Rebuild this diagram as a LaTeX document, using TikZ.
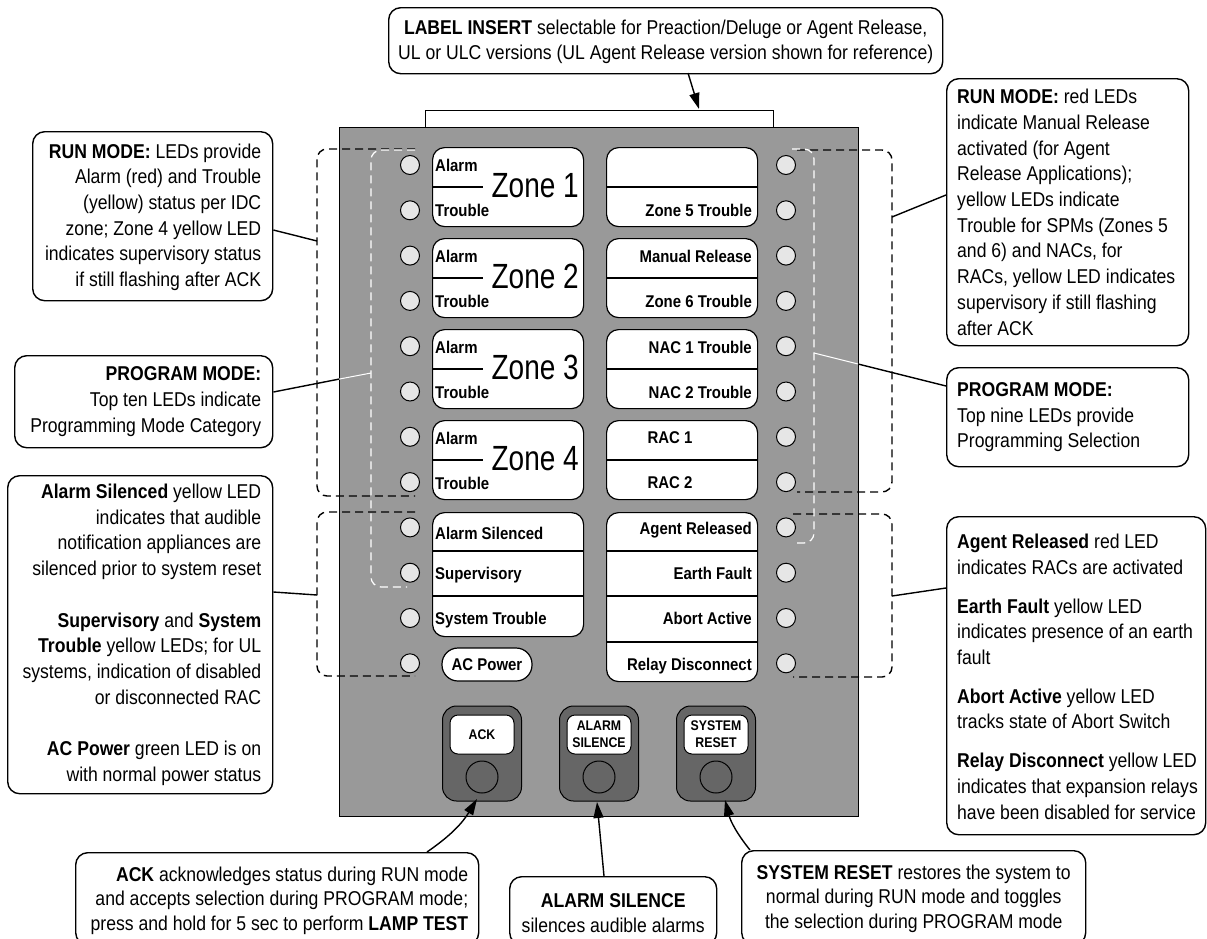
\documentclass[tikz,border=0pt]{standalone}
\usepackage{fontspec}
\setmainfont[FakeStretch=0.88]{Liberation Sans}
\newfontfamily\zonefont[FakeStretch=0.80]{Liberation Sans}
\usetikzlibrary{arrows.meta}
\definecolor{panelgray}{HTML}{999999}
\definecolor{btngray}{HTML}{666666}
\definecolor{ledgray}{HTML}{E6E6E6}
\tikzset{
  cbox/.style={draw, line width=1.4pt, rounded corners=12pt, fill=white,
    inner sep=0pt, anchor=north west},
  ctext/.style={inner sep=0pt, font=\fontsize{20}{25.7}\selectfont},
  lblbox/.style={draw, fill=white, rounded corners=12pt, minimum width=151pt,
    minimum height=79pt, line width=1.2pt, inner sep=0pt},
  lbl/.style={font=\bfseries\fontsize{17}{20}\selectfont, inner sep=0pt,
    text height=12.2pt, text depth=0pt},
  zonetxt/.style={font=\zonefont\fontsize{35}{40}\selectfont, inner sep=0pt,
    text height=25pt, text depth=0pt},
  divider/.style={line width=2.6pt},
  led/.style={circle, draw, fill=ledgray, minimum size=19pt, inner sep=0pt, line width=1pt},
  btnouter/.style={draw, fill=btngray, rounded corners=14pt, minimum width=79pt,
    minimum height=95pt, line width=1pt},
  btnlabel/.style={draw, fill=white, rounded corners=8pt, minimum width=64pt,
    minimum height=39pt, line width=1pt, inner sep=0pt, align=center,
    font=\bfseries\fontsize{14}{17}\selectfont},
  btncirc/.style={circle, draw, fill=btngray, minimum size=32pt, inner sep=0pt, line width=1pt},
  bracket/.style={dash pattern=on 8pt off 5pt, line width=1.4pt, rounded corners=10pt},
  wbracket/.style={dash pattern=on 8pt off 5pt, line width=1.2pt, rounded corners=10pt, draw=white},
  conn/.style={line width=1.4pt},
  arr/.style={line width=1.4pt, -{Triangle[length=16pt,width=10pt]}},
}
\begin{document}
\begin{tikzpicture}[x=1pt,y=-1pt]
\path[use as bounding box] (0,0) rectangle (1207,938);
\clip (0,0) rectangle (1207,938);

% label insert tab and panel
\node[draw, fill=white, line width=1pt, minimum width=348pt, minimum height=25pt,
  anchor=north west, inner sep=0pt] (tab) at (425,110) {};
\node[draw, fill=panelgray, line width=1pt, minimum width=519pt, minimum height=689pt,
  anchor=north west, inner sep=0pt] (panel) at (339,127) {};

% LEDs
\foreach \i in {0,...,11}{
  \node[led] (L\i) at (410,{165+45.3*\i}) {};
  \node[led] (R\i) at (786,{165+45.3*\i}) {};
}

% zone label boxes (left)
\foreach \n/\t in {1/147,2/238,3/329,4/420}{
  \node[lblbox, anchor=north west] (Z\n) at (432,\t) {};
  \draw[divider] (Z\n.west) -- ++(51,0);
  \node[lbl, anchor=west] (Za\n) at (435,{\t+18}) {Alarm};
  \node[lbl, anchor=west] (Zt\n) at (435,{\t+63}) {Trouble};
  \node[zonetxt, anchor=east] (Zn\n) at (579,{\t+38}) {Zone \n};
}

% right label boxes
\foreach \n/\t in {1/147,2/238,3/329,4/420}{
  \node[lblbox, anchor=north west] (Q\n) at (606,\t) {};
  \draw[divider] (Q\n.west) -- (Q\n.east);
}
\node[lbl, anchor=east] (q2a) at (752,256) {Manual Release};
\node[lbl, anchor=east] (q1b) at (752,210) {Zone 5 Trouble};
\node[lbl, anchor=east] (q2b) at (752,301) {Zone 6 Trouble};
\node[lbl, anchor=east] (q3a) at (752,347) {NAC 1 Trouble};
\node[lbl, anchor=east] (q3b) at (752,392) {NAC 2 Trouble};
\node[lbl] (q4a) at (670,437) {RAC 1};
\node[lbl] (q4b) at (670,482) {RAC 2};

% lower left group
\node[lblbox, minimum height=124pt, anchor=north west] (SL) at (432,512) {};
\draw[divider] (432,551) -- (583,551);
\draw[divider] (432,596) -- (583,596);
\node[lbl, anchor=west] (sl1) at (435,533) {Alarm Silenced};
\node[lbl, anchor=west] (sl2) at (435,573) {Supervisory};
\node[lbl, anchor=west] (sl3) at (435,618) {System Trouble};
\node[lblbox, rounded corners=16pt, minimum width=90pt, minimum height=33pt,
  font=\bfseries\fontsize{17}{20}\selectfont] (acp) at (487,664.5) {AC Power};

% lower right group
\node[lblbox, minimum height=169pt, anchor=north west] (SR) at (606,512) {};
\draw[divider] (606,551) -- (758,551);
\draw[divider] (606,596) -- (758,596);
\draw[divider] (606,642) -- (758,642);
\node[lbl, anchor=east] (sr1) at (752,528) {Agent Released};
\node[lbl, anchor=east] (sr2) at (752,573) {Earth Fault};
\node[lbl, anchor=east] (sr3) at (752,618) {Abort Active};
\node[lbl, anchor=east] (sr4) at (752,664) {Relay Disconnect};

% buttons
\foreach \n/\x/\txt in {ack/482/ACK, asil/599/{ALARM\\SILENCE}, srst/716/{SYSTEM\\RESET}}{
  \node[btnouter] (B\n) at (\x,753.5) {};
  \node[btnlabel] (BL\n) at (\x,734.5) {\txt};
  \node[btncirc] (BC\n) at (\x,777) {};
}

% dashed brackets
\draw[bracket] (415,149) -- (317,149) -- (317,496) -- (415,496);
\draw[bracket] (415,512) -- (317,512) -- (317,676) -- (415,676);
\draw[bracket] (797,150) -- (892,150) -- (892,492) -- (797,492);
\draw[bracket] (793,514) -- (892,514) -- (892,677) -- (793,677);
\draw[wbracket] (415,150) -- (371,150) -- (371,587) -- (407,587);
\draw[wbracket] (792,149) -- (814,149) -- (814,543) -- (795,543);

% callout boxes
\node[cbox, minimum width=554pt, minimum height=66pt] (ins) at (388,7) {};
\node[cbox, minimum width=240pt, minimum height=169pt] (runL) at (32,131) {};
\node[cbox, minimum width=258pt, minimum height=92pt] (progL) at (14,355) {};
\node[cbox, minimum width=265pt, minimum height=318pt] (lowL) at (7,475) {};
\node[cbox, minimum width=242pt, minimum height=267pt] (runR) at (946,78) {};
\node[cbox, minimum width=242pt, minimum height=99pt] (progR) at (946,367) {};
\node[cbox, minimum width=259pt, minimum height=318pt] (lowR) at (946,516) {};
\node[cbox, minimum width=403pt, minimum height=92pt] (ackC) at (75,852) {};
\node[cbox, minimum width=207pt, minimum height=68pt] (asilC) at (509,876) {};
\node[cbox, minimum width=344pt, minimum height=94pt] (srstC) at (741,850) {};

% callout texts
\node[ctext, align=center, font=\fontsize{20}{25}\selectfont] (insT) at ([yshift=-1pt]ins.center)
  {\textbf{LABEL INSERT} selectable for Preaction/Deluge or Agent Release,\\UL or ULC versions (UL Agent Release version shown for reference)};
\node[ctext, align=right, anchor=east] (runLt) at ([xshift=-12pt,yshift=-1pt]runL.east)
  {\textbf{RUN MODE:} LEDs provide\\Alarm (red) and Trouble\\(yellow) status per IDC\\zone; Zone 4 yellow LED\\indicates supervisory status\\if still flashing after ACK};
\node[ctext, align=right, anchor=east] (progLt) at ([xshift=-12pt]progL.east)
  {\textbf{PROGRAM MODE:}\\Top ten LEDs indicate\\Programming Mode Category};
\node[ctext, align=right, anchor=east] (lowLt) at ([xshift=-12pt]lowL.east)
  {\textbf{Alarm Silenced} yellow LED\\indicates that audible\\notification appliances are\\silenced prior to system reset\\[25.7pt]\textbf{Supervisory} and \textbf{System}\\\textbf{Trouble} yellow LEDs; for UL\\systems, indication of disabled\\or disconnected RAC\\[25.7pt]\textbf{AC Power} green LED is on\\with normal power status};
\node[ctext, align=left, anchor=west] (runRt) at ([xshift=11pt]runR.west)
  {\textbf{RUN MODE:} red LEDs\\indicate Manual Release\\activated (for Agent\\Release Applications);\\yellow LEDs indicate\\Trouble for SPMs (Zones 5\\and 6) and NACs, for\\RACs, yellow LED indicates\\supervisory if still flashing\\after ACK};
\node[ctext, align=left, anchor=west] (progRt) at ([xshift=11pt]progR.west)
  {\textbf{PROGRAM MODE:}\\Top nine LEDs provide\\Programming Selection};
\node[ctext, align=left, anchor=west] (lowRt) at ([xshift=11pt,yshift=-1pt]lowR.west)
  {\textbf{Agent Released} red LED\\indicates RACs are activated\\[13pt]\textbf{Earth Fault} yellow LED\\indicates presence of an earth\\fault\\[13pt]\textbf{Abort Active} yellow LED\\tracks state of Abort Switch\\[13pt]\textbf{Relay Disconnect} yellow LED\\indicates that expansion relays\\have been disabled for service};
\node[ctext, align=right, anchor=east, font=\fontsize{20}{24.2}\selectfont] (ackCt) at ([xshift=-11pt,yshift=-2pt]ackC.east)
  {\textbf{ACK} acknowledges status during RUN mode\\and accepts selection during PROGRAM mode;\\press and hold for 5 sec to perform \textbf{LAMP TEST}};
\node[ctext, align=center, font=\fontsize{20}{24.8}\selectfont] (asilCt) at ([yshift=-2pt]asilC.center)
  {\textbf{ALARM SILENCE}\\silences audible alarms};
\node[ctext, align=center, font=\fontsize{20}{24.8}\selectfont] (srstCt) at ([yshift=-1pt]srstC.center)
  {\textbf{SYSTEM RESET} restores the system to\\normal during RUN mode and toggles\\the selection during PROGRAM mode};

% connector end points
\coordinate (bLup) at (317,241);
\coordinate (bLlow) at (317,595);
\coordinate (bRup) at (892,217);
\coordinate (bRlow) at (892,596);
\coordinate (pL) at (339,379.1);
\coordinate (wL) at (371,373);
\coordinate (pR) at (858,364);
\coordinate (wR) at (814,353);
\coordinate (insS) at (688,73);
\coordinate (insE) at (699,109);
\coordinate (ackS) at (427,852);
\coordinate (ackE) at (477,799);
\coordinate (asilS) at (604,876);
\coordinate (asilE) at (597,802);
\coordinate (srstS) at (750,850);
\coordinate (srstE) at (725,800);

% connectors
\draw[conn] (runL.east |- 0,230) -- (bLup);
\draw[conn] (progL.east |- 0,392) -- (pL);
\draw[conn, draw=white, line width=1pt] (pL) -- (wL);
\draw[conn] (lowL.east |- 0,592) -- (bLlow);
\draw[conn] (runR.west |- 0,195) -- (bRup);
\draw[conn] (progR.west |- 0,386) -- (pR);
\draw[conn, draw=white, line width=1pt] (pR) -- (wR);
\draw[conn] (lowR.west |- 0,588) -- (bRlow);
\draw[arr] (insS) -- (insE);
\draw[arr] (ackS) to[bend right=12] (ackE);
\draw[arr] (asilS) -- (asilE);
\draw[arr] (srstS) to[bend left=12] (srstE);
\end{tikzpicture}
\end{document}
